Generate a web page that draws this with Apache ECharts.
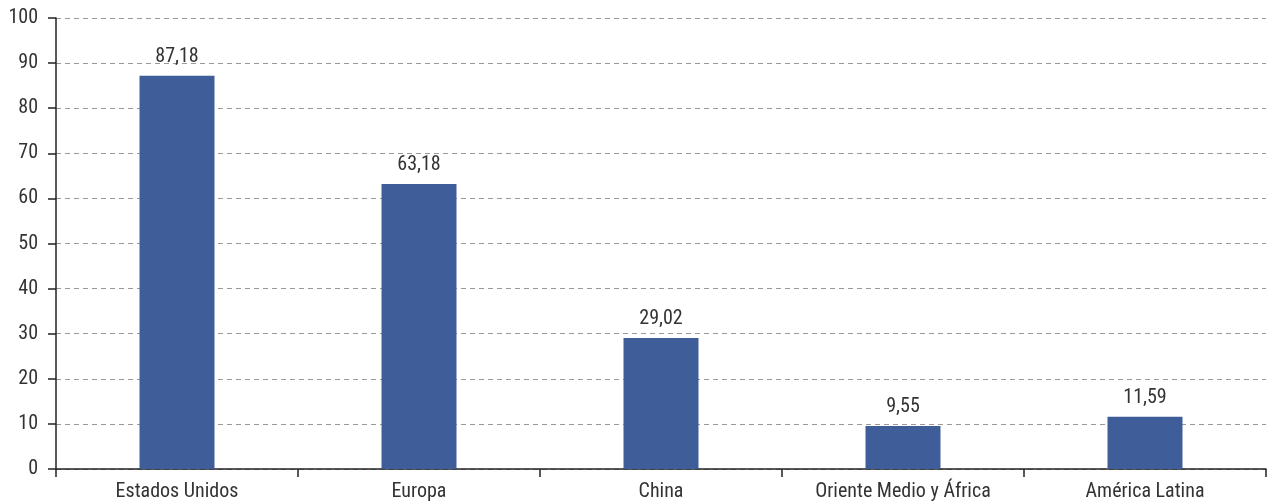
<!DOCTYPE html>
<html><head><meta charset="utf-8">
<script src="https://cdn.jsdelivr.net/npm/echarts@6/dist/echarts.min.js"></script>
<style>html,body{margin:0;padding:0;background:#fff}#c{width:1268px;height:503px}</style>
</head><body><div id="c"></div>
<script>
const categories = ['Estados Unidos', 'Europa', 'China', 'Oriente Medio y África', 'América Latina'];
const values = [87.18, 63.18, 29.02, 9.55, 11.59];
const yTicks = [0, 10, 20, 30, 40, 50, 60, 70, 80, 90, 100];
const FONT = '"Liberation Sans Narrow", "Roboto Condensed", "DejaVu Sans Condensed", sans-serif';
const chart = echarts.init(document.getElementById('c'), null, {renderer: 'canvas'});
chart.setOption({
  animation: false,
  textStyle: {fontFamily: FONT},
  grid: {left: 56, right: 2, top: 18, bottom: 34, containLabel: false},
  xAxis: {
    type: 'category', data: categories,
    axisLine: {lineStyle: {color: '#222', width: 1.5}},
    axisTick: {show: true, length: 8, lineStyle: {color: '#222', width: 1.5}},
    axisLabel: {color: '#333', fontSize: 20, fontFamily: FONT, margin: 13}
  },
  yAxis: {
    type: 'value', min: yTicks[0], max: yTicks[yTicks.length - 1], interval: 10,
    axisLine: {show: true, lineStyle: {color: '#222', width: 1.5}},
    axisTick: {show: true, length: 8, lineStyle: {color: '#222', width: 1.5}},
    axisLabel: {color: '#333', fontSize: 20, fontFamily: FONT, margin: 18},
    splitLine: {show: true, lineStyle: {color: '#999', type: [5, 4], width: 1}}
  },
  series: [{
    type: 'bar', data: values, barWidth: 75,
    itemStyle: {color: '#3F5E99'},
    label: {show: true, position: 'top', distance: 9, color: '#333', fontSize: 20, fontFamily: FONT,
      formatter: p => p.value.toFixed(2).replace('.', ',')}
  }]
});
</script></body></html>
